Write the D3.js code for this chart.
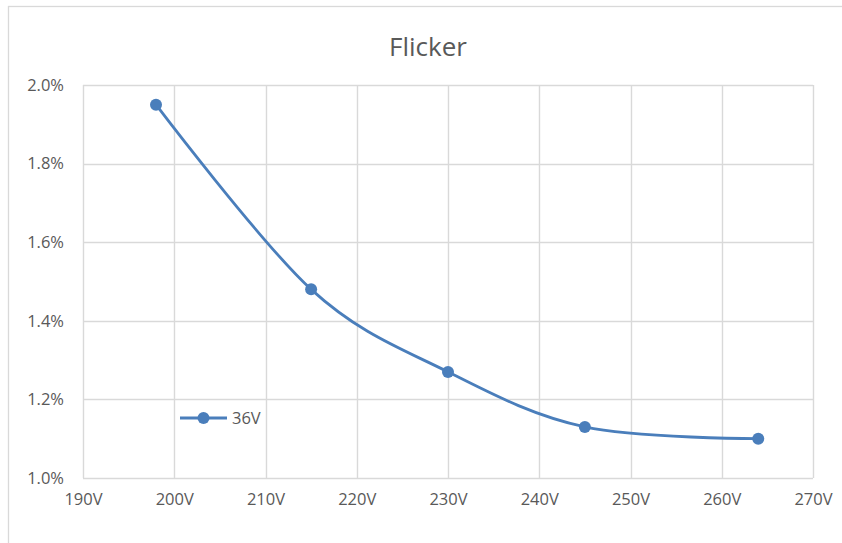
<!DOCTYPE html>
<html>
<head>
<meta charset="utf-8">
<script src="https://cdn.jsdelivr.net/npm/d3@7"></script>
<style>
  html, body { margin: 0; padding: 0; background: #fff; }
  svg { display: block; }
</style>
</head>
<body>
<svg id="chart" width="842" height="543"></svg>
<script>
// Flicker percentage measured at each supply voltage (36V load)
const voltages = [198, 215, 230, 245, 264];
const flicker = [1.95, 1.48, 1.27, 1.13, 1.10];
const seriesName = "36V";
const xTicks = [190, 200, 210, 220, 230, 240, 250, 260, 270];
const yTicks = [1.0, 1.2, 1.4, 1.6, 1.8, 2.0];

const svg = d3.select("#chart");
const font = "'Open Sans', 'Noto Sans', sans-serif";
const textColor = "#595959";
const gridColor = "#d9d9d9";
const lineColor = "#4a7ebb";

// chart frame
svg.append("rect")
  .attr("x", 8.5).attr("y", 6.5)
  .attr("width", 842).attr("height", 543)
  .attr("fill", "#fff")
  .attr("stroke", gridColor).attr("stroke-width", 1.3);

const plot = { left: 83, right: 813, top: 85, bottom: 478 };

const x = d3.scaleLinear().domain([190, 270]).range([plot.left, plot.right]);
const y = d3.scaleLinear().domain([1.0, 2.0]).range([plot.bottom, plot.top]);

// gridlines
const g = svg.append("g");
g.selectAll("line.vg").data(xTicks).join("line")
  .attr("class", "vg")
  .attr("x1", d => Math.round(x(d)) + 0.5).attr("x2", d => Math.round(x(d)) + 0.5)
  .attr("y1", plot.top).attr("y2", plot.bottom)
  .attr("stroke", gridColor).attr("stroke-width", 1.4);
g.selectAll("line.hg").data(yTicks).join("line")
  .attr("class", "hg")
  .attr("x1", plot.left).attr("x2", plot.right)
  .attr("y1", d => Math.round(y(d)) + 0.5).attr("y2", d => Math.round(y(d)) + 0.5)
  .attr("stroke", gridColor).attr("stroke-width", 1.4);

// x axis labels
const xAxis = d3.axisBottom(x).tickValues(xTicks).tickFormat(d => d + "V").tickSize(0).tickPadding(15);
const xa = svg.append("g").attr("transform", `translate(0,${plot.bottom})`).call(xAxis);
xa.select(".domain").remove();
xa.selectAll("text").attr("fill", textColor).style("font-family", font).style("font-size", "16.5px");

// y axis labels
const yAxis = d3.axisLeft(y).tickValues(yTicks).tickFormat(d => d.toFixed(1) + "%").tickSize(0).tickPadding(19);
const ya = svg.append("g").attr("transform", `translate(${plot.left},0)`).call(yAxis);
ya.select(".domain").remove();
ya.selectAll("text").attr("fill", textColor).style("font-family", font).style("font-size", "16.5px");

// title
svg.append("text")
  .attr("x", 428).attr("y", 56)
  .attr("text-anchor", "middle")
  .attr("fill", textColor)
  .style("font-family", font).style("font-size", "26px")
  .text("Flicker");

// smoothed series line
const pts = voltages.map((v, i) => [v, flicker[i]]);
const line = d3.line().x(d => x(d[0])).y(d => y(d[1])).curve(d3.curveCardinal.tension(0));
svg.append("path")
  .datum(pts)
  .attr("d", line)
  .attr("fill", "none")
  .attr("stroke", lineColor)
  .attr("stroke-width", 2.8)
  .attr("stroke-linecap", "round");

svg.selectAll("circle.pt").data(pts).join("circle")
  .attr("class", "pt")
  .attr("cx", d => x(d[0])).attr("cy", d => y(d[1]))
  .attr("r", 6)
  .attr("fill", lineColor);

// legend
const lg = svg.append("g").attr("transform", "translate(180,418)");
lg.append("line").attr("x1", 0).attr("x2", 47).attr("y1", 0).attr("y2", 0)
  .attr("stroke", lineColor).attr("stroke-width", 2.8);
lg.append("circle").attr("cx", 23.5).attr("cy", 0).attr("r", 6).attr("fill", lineColor);
lg.append("text").attr("x", 52).attr("y", 0).attr("dy", "0.35em")
  .attr("fill", textColor)
  .style("font-family", font).style("font-size", "16.5px")
  .text(seriesName);
</script>
</body>
</html>
